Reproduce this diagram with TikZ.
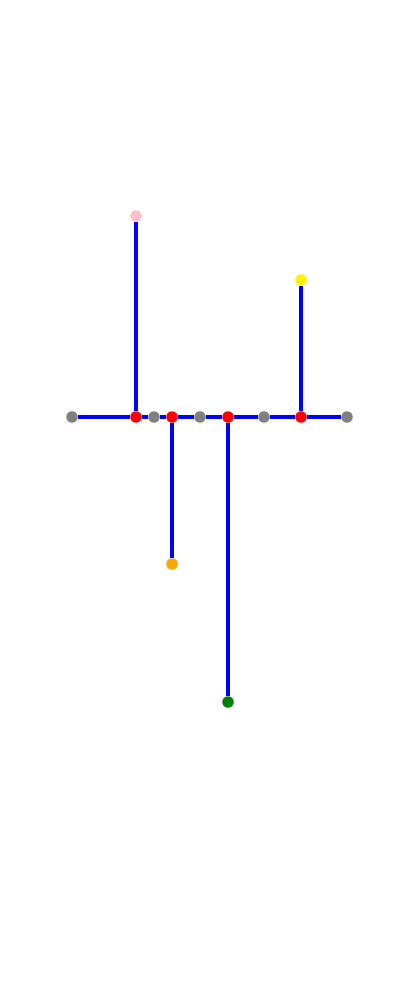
\documentclass[tikz,border=0pt]{standalone}
\usepackage{tikz}

\definecolor{webgray}{RGB}{128,128,128}
\definecolor{webpink}{RGB}{255,192,203}
\definecolor{weborange}{RGB}{255,165,0}
\definecolor{webgreen}{RGB}{0,128,0}

\tikzset{
  dot/.style={circle,fill=#1,inner sep=0pt,minimum size=0.23cm},
  wire/.style={blue,line width=1.9pt}
}

\begin{document}
\begin{tikzpicture}[x=0.02cm,y=-0.02cm]

% page frame
\useasboundingbox (0,0) rectangle (400,1000);

% main horizontal bar
\node[dot=webgray] (g1) at (72,417) {};
\node[dot=red] (r1) at (136,417) {};
\node[dot=webgray] (g2) at (154,417) {};
\node[dot=red] (r2) at (172,417) {};
\node[dot=webgray] (g3) at (200,417) {};
\node[dot=red] (r3) at (228,417) {};
\node[dot=webgray] (g4) at (264,417) {};
\node[dot=red] (r4) at (301,417) {};
\node[dot=webgray] (g5) at (347,417) {};

% branch ends
\node[dot=webpink] (pk) at (136,216) {};
\node[dot=yellow] (yl) at (301,280) {};
\node[dot=weborange] (or) at (172,564) {};
\node[dot=webgreen] (gr) at (228,702) {};

% bar segments
\draw[wire] (g1)--(r1)--(g2)--(r2)--(g3)--(r3)--(g4)--(r4)--(g5);

% vertical branches
\draw[wire] (r1)--(pk);
\draw[wire] (r4)--(yl);
\draw[wire] (r2)--(or);
\draw[wire] (r3)--(gr);

\end{tikzpicture}
\end{document}
